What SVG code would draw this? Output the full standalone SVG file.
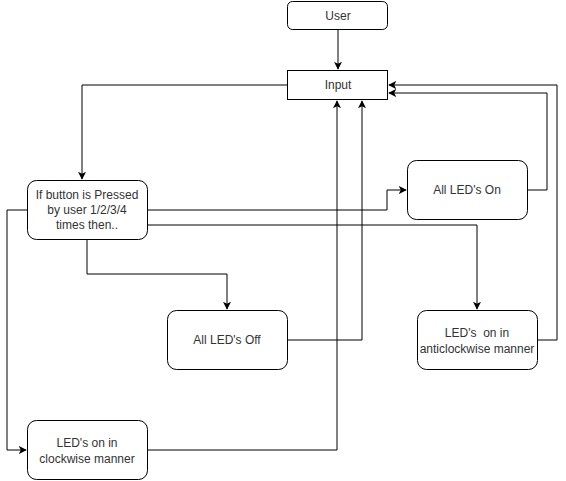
<svg xmlns="http://www.w3.org/2000/svg" width="566" height="481" viewBox="0 0 566 481">
<style>
.n{fill:#fff;stroke:#000;stroke-width:1}
.t{font-family:"Liberation Sans",Arial,sans-serif;font-size:12px;fill:#333;text-anchor:middle}
.c{fill:none;stroke:#000;stroke-width:1}
</style>
<defs>
<marker id="a" viewBox="0 0 10 10" refX="9" refY="5" markerWidth="8" markerHeight="8" markerUnits="userSpaceOnUse" orient="auto">
<path d="M0,0 L10,5 L0,10 L2.5,5 Z" fill="#000"/>
</marker>
</defs>
<rect width="566" height="481" fill="#fff"/>
<g id="connectors">
<path class="c" d="M338,30 V69" marker-end="url(#a)"/>
<path class="c" d="M287,85 H82 V179" marker-end="url(#a)"/>
<path class="c" d="M147,210 H387 V190 H406" marker-end="url(#a)"/>
<path class="c" d="M147,225 H477 V309" marker-end="url(#a)"/>
<path class="c" d="M87,240 V274 H227 V309" marker-end="url(#a)"/>
<path class="c" d="M27,210 H7 V450 H26" marker-end="url(#a)"/>
<path class="c" d="M527,190 H547 V93 H389" marker-end="url(#a)"/>
<path class="c" d="M537,340 H557 V85 H389" marker-end="url(#a)"/>
<path class="c" d="M287,340 H362 V101" marker-end="url(#a)"/>
<path class="c" d="M147,450 H337 V101" marker-end="url(#a)"/>
</g>
<g id="user"><rect class="n" x="287.5" y="1.5" width="100" height="28" rx="5"/><text class="t" x="338" y="20">User</text></g>
<g id="input"><rect class="n" x="287.5" y="70.5" width="100" height="29"/><text class="t" x="338" y="89">Input</text></g>
<g id="decision"><rect class="n" x="27.5" y="180.5" width="120" height="59" rx="9"/><text class="t" x="87" y="199">If button is Pressed</text><text class="t" x="87" y="214">by user 1/2/3/4</text><text class="t" x="87" y="229">times then..</text></g>
<g id="allon"><rect class="n" x="407.5" y="160.5" width="120" height="59" rx="9"/><text class="t" x="467" y="194">All LED's On</text></g>
<g id="alloff"><rect class="n" x="167.5" y="310.5" width="120" height="59" rx="9"/><text class="t" x="227" y="344">All LED's Off</text></g>
<g id="anticlockwise"><rect class="n" x="417.5" y="310.5" width="120" height="59" rx="9"/><text class="t" x="477" y="337" xml:space="preserve">LED's  on in</text><text class="t" x="477" y="353">anticlockwise manner</text></g>
<g id="clockwise"><rect class="n" x="27.5" y="420.5" width="120" height="59" rx="9"/><text class="t" x="87" y="447">LED's on in</text><text class="t" x="87" y="463">clockwise manner</text></g>
</svg>
